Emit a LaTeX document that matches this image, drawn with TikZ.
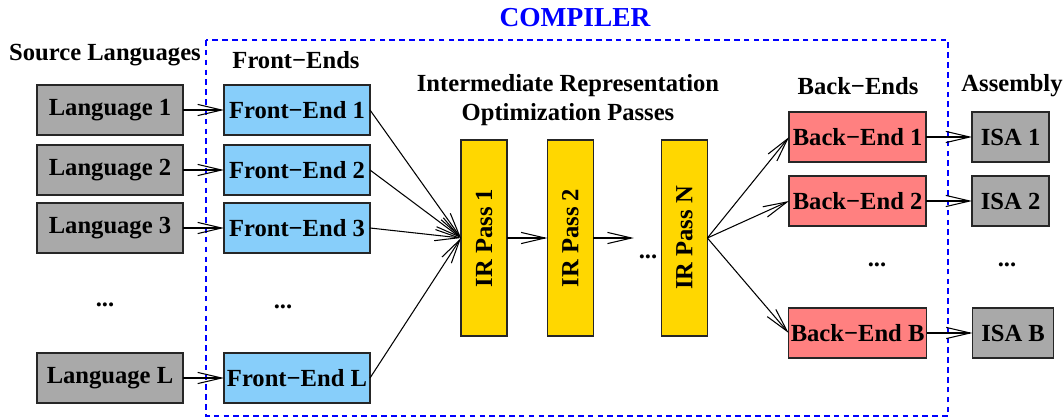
\documentclass[tikz,border=0pt]{standalone}
\usepackage{fontspec}
\setmainfont{Liberation Serif}
\usetikzlibrary{positioning,arrows.meta}
\definecolor{langgray}{RGB}{169,169,169}
\definecolor{feblue}{RGB}{135,206,250}
\definecolor{passyellow}{RGB}{255,215,0}
\definecolor{bered}{RGB}{255,128,128}
\definecolor{frameblue}{RGB}{0,0,255}

\begin{document}
\begin{tikzpicture}[
        every node/.style = {font=\fontsize{17.5}{20.5}\selectfont\bfseries},
        box/.style = {
            draw=black!85,line width=1.1pt,outer sep=0pt,inner xsep=1.5pt,
            minimum height=1.25cm},
        lang/.style = {box,fill=langgray,minimum width=3.65cm},
        fe/.style = {box,fill=feblue,minimum width=3.65cm},
        pass/.style = {box,fill=passyellow,minimum width=1.15cm,minimum height=4.9cm},
        be/.style = {box,fill=bered,minimum width=3.425cm},
        isa/.style = {box,fill=langgray,minimum width=#1},
        isa/.default = 1.925cm,
        arr/.style = {-{Straight Barb[length=6mm,width=2.8mm]},line width=0.75pt},
        ttl/.style = {align=center},
]
        \useasboundingbox (0,0) rectangle (26.6,-10.475);
        % compiler frame
        \draw[frameblue,line width=1pt,dash pattern=on 4pt off 3pt] (5.15,-1.0) rectangle (23.7,-10.4);
        \node[text=frameblue,font=\fontsize{19.5}{22}\selectfont\bfseries] (compiler) at (14.375,-0.45) {COMPILER};
        % titles
        \node[ttl] (tsrc) at (2.625,-1.375) {Source Languages};
        \node[ttl] (tfe)  at (7.4,-1.5) {Front−Ends};
        \node[ttl] (tir)  at (14.2,-2.5) {Intermediate Representation\\Optimization Passes};
        \node[ttl] (tbe)  at (21.45,-2.15) {Back−Ends};
        \node[ttl] (tasm) at (25.3,-2.15) {Assembly};
        % source languages and front-ends
        \node[lang] (lang1) at (2.75,-2.75) {Language 1};
        \node[lang] (lang2) [below=.25 of lang1] {Language 2};
        \node[lang] (lang3) [below=.2 of lang2] {Language 3};
        \node[lang] (langL) [below=2.5 of lang3] {Language L};
        \node (ldots) at (2.625,-7.625) {...};
        \node[fe] (fe1) [right=1.025 of lang1] {Front−End 1};
        \node[fe] (fe2) [right=1.025 of lang2] {Front−End 2};
        \node[fe] (fe3) [right=1.025 of lang3] {Front−End 3};
        \node[fe] (feL) [right=1.025 of langL] {Front−End L};
        \node (fdots) at (7.075,-7.675) {...};
        % IR passes
        \node[pass] (ir1) at (12.1,-5.95) {\rotatebox{90}{IR Pass 1}};
        \node[pass] (ir2) at (14.26,-5.95) {\rotatebox{90}{IR Pass 2}};
        \node (irdots) at (16.2,-6.425) {...};
        \node[pass] (irN) at (17.11,-5.95) {\rotatebox{90}{IR Pass N}};
        % back-ends and assembly
        \node[be] (be1) at (21.44,-3.425) {Back−End 1};
        \node[be] (be2) [below=.35 of be1] {Back−End 2};
        \node[be] (beB) [below=2.05 of be2] {Back−End B};
        \node (bdots) at (21.925,-6.625) {...};
        \node[isa] (isa1) [right=1.15 of be1] {ISA 1};
        \node[isa] (isa2) [right=1.15 of be2] {ISA 2};
        \node[isa=2.025cm] (isaB) [right=1.15 of beB] {ISA B};
        \node (adots) at (25.175,-6.625) {...};
        % connectors
        \foreach \i in {1,2,3,L}
            \draw[arr] (lang\i) -- (fe\i);
        \foreach \i in {1,2,3,L}
            \draw[arr] (fe\i.east) -- (ir1.west);
        \draw[arr] (ir1) -- (ir2);
        \draw[arr] (ir2.east) -- (ir2.east -| irdots.west);
        \foreach \i in {1,2,B}
            \draw[arr] (irN.east) -- (be\i.west);
        \draw[arr] (be1) -- (isa1);
        \draw[arr] (be2) -- (isa2);
        \draw[arr] (beB) -- (isaB);
\end{tikzpicture}
\end{document}
